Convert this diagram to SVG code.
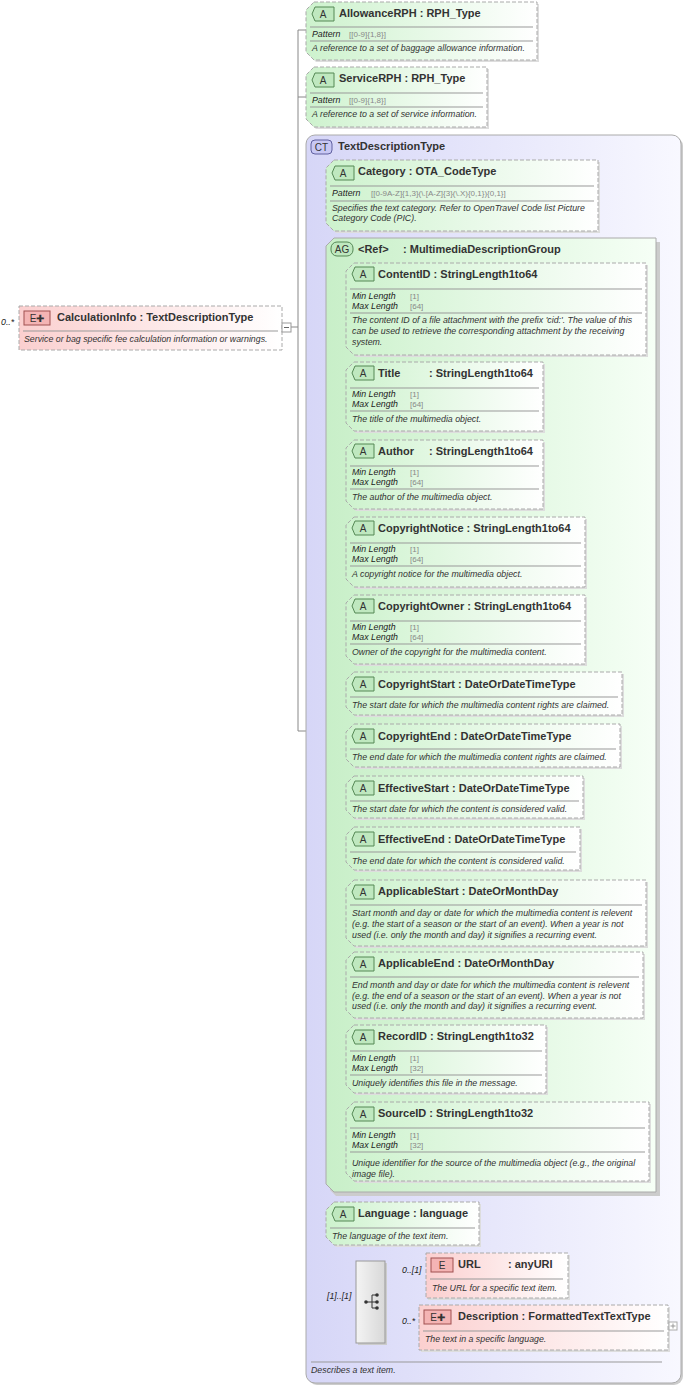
<svg xmlns="http://www.w3.org/2000/svg" width="685" height="1386" viewBox="0 0 685 1386">
<defs>
<linearGradient id="gA" x1="0" y1="0" x2="1" y2="0"><stop offset="0" stop-color="#cdf2cd"/><stop offset="1" stop-color="#ffffff"/></linearGradient>
<linearGradient id="gE" x1="0" y1="0" x2="1" y2="0"><stop offset="0" stop-color="#fbcfcf"/><stop offset="1" stop-color="#ffffff"/></linearGradient>
<linearGradient id="gCT" x1="0" y1="0" x2="1" y2="0"><stop offset="0" stop-color="#d6d6f7"/><stop offset="1" stop-color="#f8f8ff"/></linearGradient>
<linearGradient id="gAG" x1="0" y1="0" x2="1" y2="0"><stop offset="0" stop-color="#c8efc8"/><stop offset="1" stop-color="#f6fff6"/></linearGradient>
<linearGradient id="gS" x1="0" y1="0" x2="1" y2="0"><stop offset="0" stop-color="#f4f4f4"/><stop offset="1" stop-color="#d8d8d8"/></linearGradient>
</defs>
<style>
text{font-family:"Liberation Sans",Arial,sans-serif}
.t{font-size:11px;font-weight:bold;fill:#333}
.f{font-size:8.8px;font-style:italic;fill:#222}
.v{font-size:8px;fill:#888}
.d{font-size:8.8px;font-style:italic;fill:#333}
.m{font-size:8.8px;font-style:italic;fill:#222}
.a{fill:url(#gA);stroke:#aaa;stroke-dasharray:4,2}
.e{fill:url(#gE);stroke:#aaa;stroke-dasharray:4,2}
.sh{fill:#ddd}
.sep{stroke:#999;stroke-width:1}
.ln{stroke:#888;fill:none}
.bA{fill:#bfe8bf;stroke:#558855}
.bE{fill:#f4b4b4;stroke:#a05050}
.bt{font-size:10px;fill:#333;text-anchor:middle}
</style>
<g id="connectors" class="ln">
<path d="M291,327 H298 M298,30 V731 M298,30 H306 M298,97 H306 M298,731 H306"/>
<path d="M318,195 V1301 M318,195 H326 M318,716 H336 M318,1223 H326 M318,1301 H356"/>
<path d="M336,311 V1143 M336,311 H346 M336,396 H346 M336,474 H346 M336,552 H346 M336,629 H346 M336,693 H346 M336,745 H346 M336,797 H346 M336,848 H346 M336,913 H346 M336,985 H346 M336,1059 H346 M336,1143 H346"/>
<path d="M385,1276 H426 M385,1327 H419"/>
</g>
<g id="CalculationInfo">
<text class="m" x="1" y="325">0..*</text>
<rect x="19" y="306" width="263" height="44" class="e"/>
<rect x="24" y="311" width="26" height="14" class="bE"/><text class="bt" x="37" y="322">E✚</text>
<text class="t" x="57" y="321">CalculationInfo : TextDescriptionType</text>
<line x1="23" y1="331" x2="278" y2="331" class="sep"/>
<text class="d" x="24" y="342">Service or bag specific fee calculation information or warnings.</text>
<rect x="282" y="323" width="9" height="9" fill="#fff" stroke="#999"/><line x1="284" y1="327.5" x2="289" y2="327.5" stroke="#666"/>
</g>
<g id="AllowanceRPH">
<path class="sh" d="M316,4 H539 V62 H316 L308,54 V12 Z"/>
<path class="a" d="M314,2 H537 V60 H314 L306,52 V10 Z"/>
<path class="bA" d="M315,7 H334 V21 H315 L312,14 Z"/><text class="bt" x="323" y="18">A</text>
<text class="t" x="339" y="17">AllowanceRPH : RPH_Type</text>
<line x1="310" y1="27" x2="533" y2="27" class="sep"/>
<text class="f" x="312" y="37">Pattern</text><text class="v" x="349" y="37">[[0-9]{1,8}]</text>
<line x1="310" y1="41" x2="533" y2="41" class="sep"/>
<text class="d" x="312" y="51">A reference to a set of baggage allowance information.</text>
</g>
<g id="ServiceRPH">
<path class="sh" d="M316,69 H489 V129 H316 L308,121 V77 Z"/>
<path class="a" d="M314,67 H487 V127 H314 L306,119 V75 Z"/>
<path class="bA" d="M315,73 H334 V87 H315 L312,80 Z"/><text class="bt" x="323" y="84">A</text>
<text class="t" x="339" y="82">ServiceRPH : RPH_Type</text>
<line x1="310" y1="93" x2="483" y2="93" class="sep"/>
<text class="f" x="312" y="103">Pattern</text><text class="v" x="349" y="103">[[0-9]{1,8}]</text>
<line x1="310" y1="107" x2="483" y2="107" class="sep"/>
<text class="d" x="312" y="117">A reference to a set of service information.</text>
</g>
<g id="TextDescriptionType">
<rect x="308" y="137" width="375" height="1248" rx="9" fill="#ccc"/>
<rect x="306" y="135" width="375" height="1248" rx="9" fill="url(#gCT)" stroke="#aaa"/>
<rect x="311" y="140" width="21" height="14" rx="4" fill="#c8c8f4" stroke="#6060a0"/><text class="bt" x="321.5" y="151">CT</text>
<text class="t" x="338" y="150">TextDescriptionType</text>
<line x1="311" y1="1362" x2="662" y2="1362" class="sep"/>
<text class="d" x="311" y="1373">Describes a text item.</text>
</g>
<g id="Category">
<path class="sh" d="M336,162 H600 V233 H336 L328,225 V170 Z"/>
<path class="a" d="M334,160 H598 V231 H334 L326,223 V168 Z"/>
<path class="bA" d="M335,166 H354 V180 H335 L332,173 Z"/><text class="bt" x="343" y="177">A</text>
<text class="t" x="358" y="175">Category : OTA_CodeType</text>
<line x1="330" y1="186" x2="594" y2="186" class="sep"/>
<text class="f" x="332" y="196">Pattern</text><text class="v" x="371" y="196">[[0-9A-Z]{1,3}(\.[A-Z]{3}(\.X){0,1}){0,1}]</text>
<line x1="330" y1="201" x2="594" y2="201" class="sep"/>
<text class="d" x="332" y="211">Specifies the text category. Refer to OpenTravel Code list Picture</text>
<text class="d" x="332" y="221">Category Code (PIC).</text>
</g>
<g id="MultimediaDescriptionGroup">
<path d="M336,242 H660 V1196 H336 L330,1190 V248 Z" fill="#ccc"/>
<path d="M334,238 H656 V1192 H334 L326,1184 V246 Z" fill="url(#gAG)" stroke="#aaa"/>
<rect x="331" y="242" width="22" height="14" rx="6" fill="#bfe8bf" stroke="#558855"/><text class="bt" x="342" y="253">AG</text>
<text class="t" x="358" y="253">&lt;Ref&gt;</text><text class="t" x="403" y="253">: MultimediaDescriptionGroup</text>
</g>
<g id="ContentID">
<path class="sh" d="M356,265 H648 V357 H356 L348,349 V273 Z"/>
<path class="a" d="M354,263 H646 V355 H354 L346,347 V271 Z"/>
<path class="bA" d="M355,267 H374 V281 H355 L352,274 Z"/><text class="bt" x="363" y="278">A</text>
<text class="t" x="378" y="278">ContentID : StringLength1to64</text>
<line x1="350" y1="289" x2="642" y2="289" class="sep"/>
<text class="f" x="352" y="299">Min Length</text><text class="v" x="410" y="299">[1]</text>
<text class="f" x="352" y="309">Max Length</text><text class="v" x="410" y="309">[64]</text>
<line x1="350" y1="313" x2="642" y2="313" class="sep"/>
<text class="d" x="352" y="323">The content ID of a file attachment with the prefix 'cid:'. The value of this</text>
<text class="d" x="352" y="334">can be used to retrieve the corresponding attachment by the receiving</text>
<text class="d" x="352" y="345">system.</text>
</g>
<g id="Title">
<path class="sh" d="M356,364 H545 V433 H356 L348,425 V372 Z"/>
<path class="a" d="M354,362 H543 V431 H354 L346,423 V370 Z"/>
<path class="bA" d="M355,366 H374 V380 H355 L352,373 Z"/><text class="bt" x="363" y="377">A</text>
<text class="t" x="378" y="377">Title</text><text class="t" x="429" y="377">: StringLength1to64</text>
<line x1="350" y1="388" x2="539" y2="388" class="sep"/>
<text class="f" x="352" y="397">Min Length</text><text class="v" x="410" y="397">[1]</text>
<text class="f" x="352" y="407">Max Length</text><text class="v" x="410" y="407">[64]</text>
<line x1="350" y1="411" x2="539" y2="411" class="sep"/>
<text class="d" x="352" y="422">The title of the multimedia object.</text>
</g>
<g id="Author">
<path class="sh" d="M356,442 H545 V511 H356 L348,503 V450 Z"/>
<path class="a" d="M354,440 H543 V509 H354 L346,501 V448 Z"/>
<path class="bA" d="M355,444 H374 V458 H355 L352,451 Z"/><text class="bt" x="363" y="455">A</text>
<text class="t" x="378" y="455">Author</text><text class="t" x="429" y="455">: StringLength1to64</text>
<line x1="350" y1="466" x2="539" y2="466" class="sep"/>
<text class="f" x="352" y="475">Min Length</text><text class="v" x="410" y="475">[1]</text>
<text class="f" x="352" y="485">Max Length</text><text class="v" x="410" y="485">[64]</text>
<line x1="350" y1="489" x2="539" y2="489" class="sep"/>
<text class="d" x="352" y="500">The author of the multimedia object.</text>
</g>
<g id="CopyrightNotice">
<path class="sh" d="M356,519 H587 V589 H356 L348,581 V527 Z"/>
<path class="a" d="M354,517 H585 V587 H354 L346,579 V525 Z"/>
<path class="bA" d="M355,521 H374 V535 H355 L352,528 Z"/><text class="bt" x="363" y="532">A</text>
<text class="t" x="378" y="532">CopyrightNotice : StringLength1to64</text>
<line x1="350" y1="543" x2="581" y2="543" class="sep"/>
<text class="f" x="352" y="552">Min Length</text><text class="v" x="410" y="552">[1]</text>
<text class="f" x="352" y="562">Max Length</text><text class="v" x="410" y="562">[64]</text>
<line x1="350" y1="566" x2="581" y2="566" class="sep"/>
<text class="d" x="352" y="577">A copyright notice for the multimedia object.</text>
</g>
<g id="CopyrightOwner">
<path class="sh" d="M356,597 H587 V666 H356 L348,658 V605 Z"/>
<path class="a" d="M354,595 H585 V664 H354 L346,656 V603 Z"/>
<path class="bA" d="M355,599 H374 V613 H355 L352,606 Z"/><text class="bt" x="363" y="610">A</text>
<text class="t" x="378" y="610">CopyrightOwner : StringLength1to64</text>
<line x1="350" y1="621" x2="581" y2="621" class="sep"/>
<text class="f" x="352" y="630">Min Length</text><text class="v" x="410" y="630">[1]</text>
<text class="f" x="352" y="640">Max Length</text><text class="v" x="410" y="640">[64]</text>
<line x1="350" y1="644" x2="581" y2="644" class="sep"/>
<text class="d" x="352" y="655">Owner of the copyright for the multimedia content.</text>
</g>
<g id="CopyrightStart">
<path class="sh" d="M356,674 H624 V717 H356 L348,709 V682 Z"/>
<path class="a" d="M354,672 H622 V715 H354 L346,707 V680 Z"/>
<path class="bA" d="M355,677 H374 V691 H355 L352,684 Z"/><text class="bt" x="363" y="688">A</text>
<text class="t" x="378" y="688">CopyrightStart : DateOrDateTimeType</text>
<line x1="350" y1="697" x2="618" y2="697" class="sep"/>
<text class="d" x="352" y="708">The start date for which the multimedia content rights are claimed.</text>
</g>
<g id="CopyrightEnd">
<path class="sh" d="M356,726 H622 V769 H356 L348,761 V734 Z"/>
<path class="a" d="M354,724 H620 V767 H354 L346,759 V732 Z"/>
<path class="bA" d="M355,729 H374 V743 H355 L352,736 Z"/><text class="bt" x="363" y="740">A</text>
<text class="t" x="378" y="740">CopyrightEnd : DateOrDateTimeType</text>
<line x1="350" y1="749" x2="616" y2="749" class="sep"/>
<text class="d" x="352" y="760">The end date for which the multimedia content rights are claimed.</text>
</g>
<g id="EffectiveStart">
<path class="sh" d="M356,778 H585 V820 H356 L348,812 V786 Z"/>
<path class="a" d="M354,776 H583 V818 H354 L346,810 V784 Z"/>
<path class="bA" d="M355,781 H374 V795 H355 L352,788 Z"/><text class="bt" x="363" y="792">A</text>
<text class="t" x="378" y="792">EffectiveStart : DateOrDateTimeType</text>
<line x1="350" y1="801" x2="579" y2="801" class="sep"/>
<text class="d" x="352" y="812">The start date for which the content is considered valid.</text>
</g>
<g id="EffectiveEnd">
<path class="sh" d="M356,829 H582 V872 H356 L348,864 V837 Z"/>
<path class="a" d="M354,827 H580 V870 H354 L346,862 V835 Z"/>
<path class="bA" d="M355,832 H374 V846 H355 L352,839 Z"/><text class="bt" x="363" y="843">A</text>
<text class="t" x="378" y="843">EffectiveEnd : DateOrDateTimeType</text>
<line x1="350" y1="852" x2="576" y2="852" class="sep"/>
<text class="d" x="352" y="864">The end date for which the content is considered valid.</text>
</g>
<g id="ApplicableStart">
<path class="sh" d="M356,882 H648 V948 H356 L348,940 V890 Z"/>
<path class="a" d="M354,880 H646 V946 H354 L346,938 V888 Z"/>
<path class="bA" d="M355,885 H374 V899 H355 L352,892 Z"/><text class="bt" x="363" y="896">A</text>
<text class="t" x="378" y="895">ApplicableStart : DateOrMonthDay</text>
<line x1="350" y1="905" x2="642" y2="905" class="sep"/>
<text class="d" x="352" y="916">Start month and day or date for which the multimedia content is relevent</text>
<text class="d" x="352" y="927">(e.g. the start of a season or the start of an event). When a year is not</text>
<text class="d" x="352" y="938">used (i.e. only the month and day) it signifies a recurring event.</text>
</g>
<g id="ApplicableEnd">
<path class="sh" d="M356,954 H645 V1020 H356 L348,1012 V962 Z"/>
<path class="a" d="M354,952 H643 V1018 H354 L346,1010 V960 Z"/>
<path class="bA" d="M355,957 H374 V971 H355 L352,964 Z"/><text class="bt" x="363" y="968">A</text>
<text class="t" x="378" y="967">ApplicableEnd : DateOrMonthDay</text>
<line x1="350" y1="977" x2="639" y2="977" class="sep"/>
<text class="d" x="352" y="988">End month and day or date for which the multimedia content is relevent</text>
<text class="d" x="352" y="999">(e.g. the end of a season or the start of an event). When a year is not</text>
<text class="d" x="352" y="1009">used (i.e. only the month and day) it signifies a recurring event.</text>
</g>
<g id="RecordID">
<path class="sh" d="M356,1027 H548 V1095 H356 L348,1087 V1035 Z"/>
<path class="a" d="M354,1025 H546 V1093 H354 L346,1085 V1033 Z"/>
<path class="bA" d="M355,1030 H374 V1044 H355 L352,1037 Z"/><text class="bt" x="363" y="1041">A</text>
<text class="t" x="378" y="1040">RecordID : StringLength1to32</text>
<line x1="350" y1="1051" x2="542" y2="1051" class="sep"/>
<text class="f" x="352" y="1061">Min Length</text><text class="v" x="410" y="1061">[1]</text>
<text class="f" x="352" y="1071">Max Length</text><text class="v" x="410" y="1071">[32]</text>
<line x1="350" y1="1075" x2="542" y2="1075" class="sep"/>
<text class="d" x="352" y="1086">Uniquely identifies this file in the message.</text>
</g>
<g id="SourceID">
<path class="sh" d="M356,1104 H651 V1183 H356 L348,1175 V1112 Z"/>
<path class="a" d="M354,1102 H649 V1181 H354 L346,1173 V1110 Z"/>
<path class="bA" d="M355,1107 H374 V1121 H355 L352,1114 Z"/><text class="bt" x="363" y="1118">A</text>
<text class="t" x="378" y="1117">SourceID : StringLength1to32</text>
<line x1="350" y1="1128" x2="645" y2="1128" class="sep"/>
<text class="f" x="352" y="1138">Min Length</text><text class="v" x="410" y="1138">[1]</text>
<text class="f" x="352" y="1148">Max Length</text><text class="v" x="410" y="1148">[32]</text>
<line x1="350" y1="1152" x2="645" y2="1152" class="sep"/>
<text class="d" x="352" y="1166">Unique identifier for the source of the multimedia object (e.g., the original</text>
<text class="d" x="352" y="1177">image file).</text>
</g>
<g id="Language">
<path class="sh" d="M336,1204 H481 V1247 H336 L328,1239 V1212 Z"/>
<path class="a" d="M334,1202 H479 V1245 H334 L326,1237 V1210 Z"/>
<path class="bA" d="M335,1207 H354 V1221 H335 L332,1214 Z"/><text class="bt" x="343" y="1218">A</text>
<text class="t" x="358" y="1217">Language : language</text>
<line x1="330" y1="1228" x2="475" y2="1228" class="sep"/>
<text class="d" x="332" y="1239">The language of the text item.</text>
</g>
<g id="Sequence">
<text class="m" x="327" y="1299">[1]..[1]</text>
<rect x="358" y="1263" width="29" height="82" fill="#ccc"/>
<rect x="356" y="1261" width="29" height="82" fill="url(#gS)" stroke="#999"/>
<path d="M366,1302 H372 M372,1295 V1308 M372,1295 H376 M372,1302 H376 M372,1308 H376" stroke="#333" fill="none"/>
<circle cx="366" cy="1302" r="1.8" fill="#333"/><circle cx="377" cy="1295" r="1.8" fill="#333"/><circle cx="377" cy="1302" r="1.8" fill="#333"/><circle cx="377" cy="1308" r="1.8" fill="#333"/>
<text class="m" x="402" y="1273">0..[1]</text>
<text class="m" x="402" y="1324">0..*</text>
</g>
<g id="URL">
<rect x="428" y="1255" width="142" height="45" fill="#ddd"/>
<rect x="426" y="1253" width="142" height="45" class="e"/>
<rect x="431" y="1258" width="22" height="14" class="bE"/><text class="bt" x="442" y="1269">E</text>
<text class="t" x="458" y="1268">URL</text><text class="t" x="508" y="1268">: anyURI</text>
<line x1="430" y1="1279" x2="563" y2="1279" class="sep"/>
<text class="d" x="432" y="1291">The URL for a specific text item.</text>
</g>
<g id="Description">
<rect x="421" y="1307" width="249" height="45" fill="#ddd"/>
<rect x="419" y="1305" width="249" height="45" class="e"/>
<rect x="424" y="1310" width="27" height="14" class="bE"/><text class="bt" x="437.5" y="1321">E✚</text>
<text class="t" x="458" y="1320">Description : FormattedTextTextType</text>
<line x1="423" y1="1331" x2="664" y2="1331" class="sep"/>
<text class="d" x="425" y="1342">The text in a specific language.</text>
<rect x="669" y="1322" width="8" height="8" fill="#fff" stroke="#aaa"/><path d="M670.5,1326 H675.5 M673,1323.5 V1328.5" stroke="#999"/>
</g>
</svg>
